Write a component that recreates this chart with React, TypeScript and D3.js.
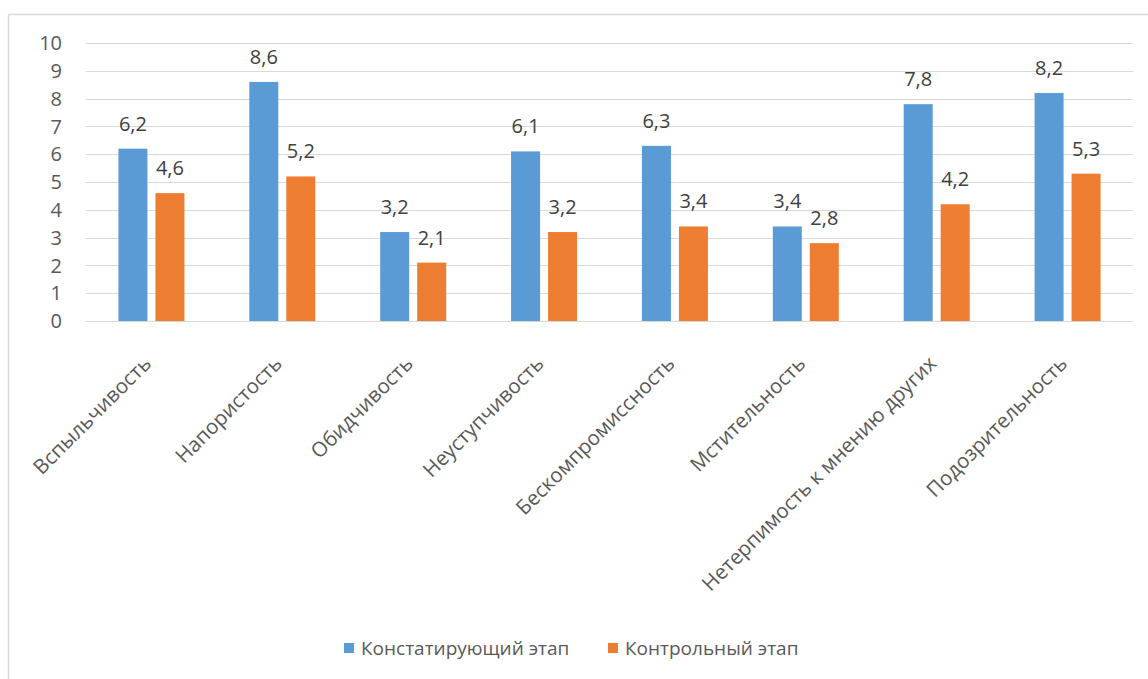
import React from "react";
import * as d3 from "d3";

const categories = [
  "Вспыльчивость",
  "Напористость",
  "Обидчивость",
  "Неуступчивость",
  "Бескомпромиссность",
  "Мстительность",
  "Нетерпимость к мнению других",
  "Подозрительность",
];
const seriesNames = ["Констатирующий этап", "Контрольный этап"];
const stage1 = [6.2, 8.6, 3.2, 6.1, 6.3, 3.4, 7.8, 8.2];
const stage2 = [4.6, 5.2, 2.1, 3.2, 3.4, 2.8, 4.2, 5.3];
const yTicks = [0, 1, 2, 3, 4, 5, 6, 7, 8, 9, 10];
const colors = ["#5B9BD5", "#ED7D31"];

const W = 1148;
const H = 679;
const FONT = "'Open Sans', 'Noto Sans', sans-serif";

export default function App() {
  const left = 86;
  const right = 1133;
  const top = 43;
  const bottom = 321;

  const x0 = d3.scaleBand<string>().domain(categories).range([left, right]).paddingInner(0).paddingOuter(0);
  const y = d3.scaleLinear().domain([0, 10]).range([bottom, top]);
  const barW = 29;
  const gap = 8;
  const fmt = (v: number) => v.toFixed(1).replace(".", ",");
  const series = [stage1, stage2];

  return (
    <div style={{ position: "absolute", left: 0, top: 0 }}>
      <svg width={W} height={H} style={{ display: "block", background: "#fff" }}>
        {/* chart frame */}
        <line x1={8.5} y1={14.5} x2={W} y2={14.5} stroke="#D9D9D9" strokeWidth={1.5} />
        <line x1={8.5} y1={14.5} x2={8.5} y2={H} stroke="#D9D9D9" strokeWidth={1.5} />

        {/* gridlines and y tick labels */}
        {yTicks.map((t) => (
          <g key={t}>
            <line x1={left} x2={right} y1={Math.round(y(t)) + 0.5} y2={Math.round(y(t)) + 0.5} stroke="#D9D9D9" strokeWidth={1} />
            <text x={62} y={y(t)} dy="0.36em" textAnchor="end" fontFamily={FONT} fontSize={20} fill="#595959">
              {t}
            </text>
          </g>
        ))}

        {/* bars with value labels */}
        {categories.map((c, i) => {
          const cx = (x0(c) as number) + x0.bandwidth() / 2;
          return (
            <g key={c}>
              {series.map((s, k) => {
                const bx = k === 0 ? cx - gap / 2 - barW : cx + gap / 2;
                const v = s[i];
                return (
                  <g key={k}>
                    <rect x={bx} y={y(v)} width={barW} height={y(0) - y(v)} fill={colors[k]} />
                    <text x={bx + barW / 2} y={y(v) - 18} textAnchor="middle" fontFamily={FONT} fontSize={20} fill="#404040">
                      {fmt(v)}
                    </text>
                  </g>
                );
              })}
              <text
                transform={`translate(${cx + 1},${bottom + 44}) rotate(-45)`}
                textAnchor="end"
                fontFamily={FONT}
                fontSize={20.5}
                fill="#595959"
              >
                {c}
              </text>
            </g>
          );
        })}

        {/* legend */}
        {seriesNames.map((n, k) => {
          const lx = k === 0 ? 344 : 608;
          return (
            <g key={n}>
              <rect x={lx} y={643} width={10} height={10} fill={colors[k]} />
              <text x={lx + 17} y={648} dy="0.36em" fontFamily={FONT} fontSize={19} fill="#595959">
                {n}
              </text>
            </g>
          );
        })}
      </svg>
    </div>
  );
}
